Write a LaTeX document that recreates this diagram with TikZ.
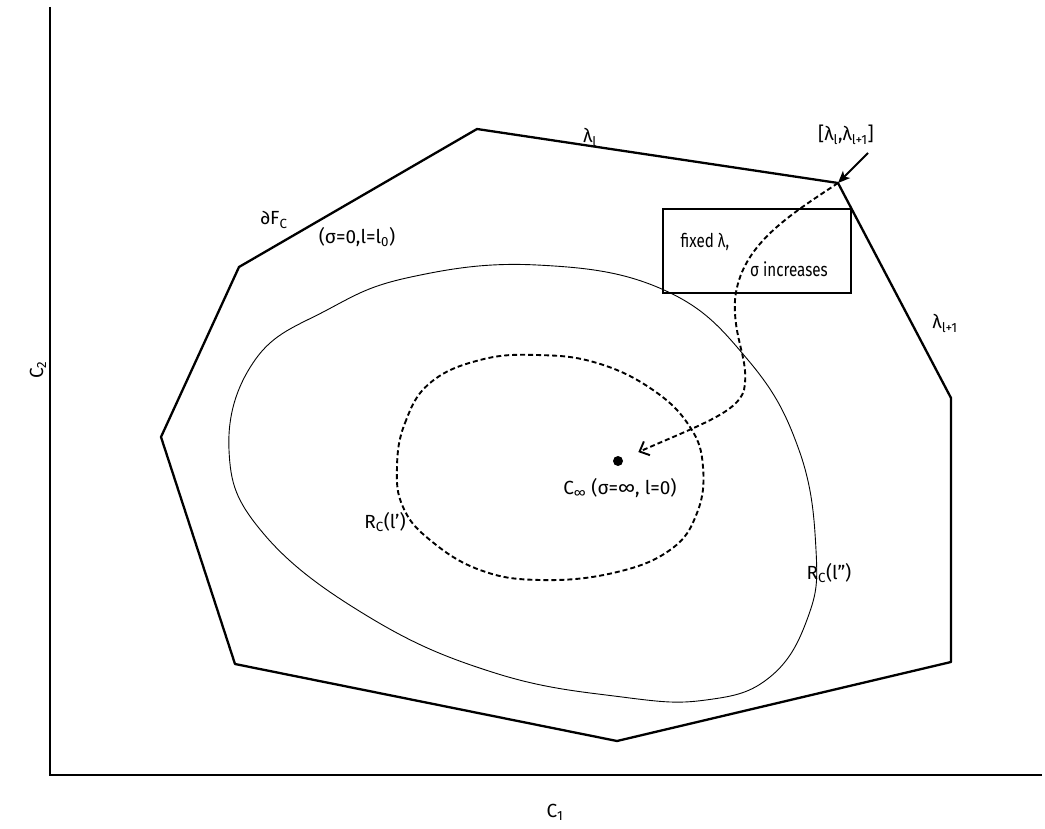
\documentclass[tikz,border=0pt]{standalone}
\usepackage{fontspec}
\setmainfont{Fira Sans}
\newfontfamily\narrowfont{Fira Sans}[FakeStretch=0.8]
\usetikzlibrary{arrows.meta}
\begin{document}
\begin{tikzpicture}[x=1pt,y=-1pt,
  lbl/.style={font=\fontsize{19}{21}\selectfont, inner sep=0pt},
  small/.style={font=\narrowfont\fontsize{19}{21}\selectfont, inner sep=0pt},
  axis/.style={line width=2.4pt},
  border/.style={line width=2.3pt, line join=round},
  region/.style={line width=0.9pt},
  dregion/.style={line width=1.9pt, dash pattern=on 5pt off 3pt},
  boxst/.style={draw, line width=1.1pt, minimum width=188pt, minimum height=84pt, inner sep=0pt},
  flow/.style={line width=1.9pt, dash pattern=on 5pt off 3pt, -{Straight Barb[length=8pt,width=15pt,line width=1.9pt]}},
  pointer/.style={line width=1.9pt, -{Stealth[length=12pt,width=10pt,inset=3pt]}}]
\useasboundingbox (0,0) rectangle (1045,829);
% axes
\coordinate (o) at (50,775);
\coordinate (ytop) at (50,7);
\coordinate (xend) at (1042,775);
\draw[axis] (ytop) -- (o) -- (xend);
\node[lbl, rotate=90] (c2) at (38,370) {C\textsubscript{2}};
\node[lbl] (c1) at (555,812) {C\textsubscript{1}};
% feasible polygon
\coordinate (v1) at (477,129);
\coordinate (v2) at (838,183);
\coordinate (v3) at (951,398);
\coordinate (v4) at (951,662);
\coordinate (v5) at (617,741);
\coordinate (v6) at (235,664);
\coordinate (v7) at (161,437);
\coordinate (v8) at (239,267);
\draw[border] (v1) -- (v2) -- (v3) -- (v4) -- (v5) -- (v6) -- (v7) -- (v8) -- cycle;
% outer region
\draw[region] plot[smooth cycle, tension=0.7] coordinates {(229,450) (255,360) (327,310) (411,277) (537,265) (664,290) (748,360) (799,450) (816,550) (808,617) (770,677) (706,700) (622,697) (495,673) (369,617) (263,533)};
% inner dashed region
\draw[dregion] plot[smooth cycle, tension=0.7] coordinates {(397,467) (405,423) (430,383) (480,360) (537,355) (597,363) (653,390) (690,427) (703,467) (697,513) (670,550) (613,573) (540,580) (480,570) (430,540) (403,507)};
% box
\node[boxst] (box) at (757,251) {};
\node[small] (fx) at (705,242) {fixed λ,};
\node[small] (si) at (789,269) {σ increases};
% point
\node[circle, fill, inner sep=0pt, minimum size=10pt] (cinf) at (618,461) {};
\node[lbl] (cinfl) at (620,488) {C\textsubscript{∞} (σ=∞, l=0)};
% flow arrow
\draw[flow, shorten >=17pt] (v2) .. controls (790,215) and (740,245) .. (735,300) .. controls (733,340) and (750,360) .. (744,390) .. controls (738,412) and (700,425) .. (cinf);
% pointer
\coordinate (ptail) at (868,153);
\draw[pointer] (ptail) -- (v2);
% labels
\node[lbl] (lam) at (590,137) {λ\textsubscript{l}};
\node[lbl] (lamint) at (846,135) {[λ\textsubscript{l},λ\textsubscript{l+1}]};
\node[lbl] (dfc) at (274,220) {∂F\textsubscript{C}};
\node[lbl] (s0) at (357,237) {(σ=0,l=l\textsubscript{0})};
\node[lbl] (lam2) at (945,323) {λ\textsubscript{l+1}};
\node[lbl] (r1) at (385,522) {R\textsubscript{C}(l')};
\node[lbl] (r2) at (829,573) {R\textsubscript{C}(l'')};
\end{tikzpicture}
\end{document}
